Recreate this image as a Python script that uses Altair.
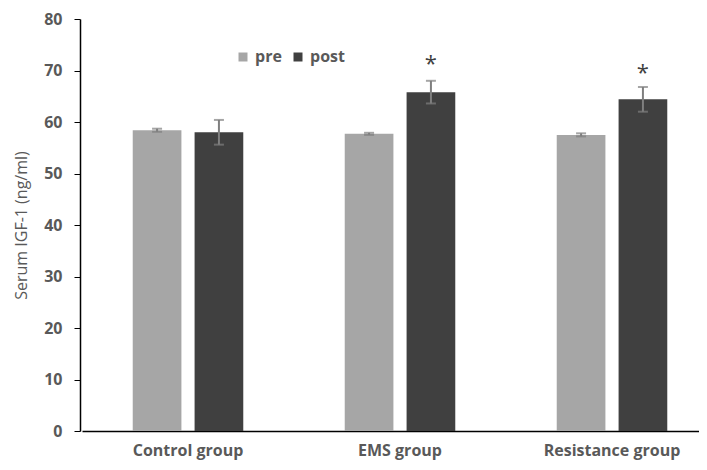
import altair as alt
import pandas as pd

groups = ["Control group", "EMS group", "Resistance group"]
phases = ["pre", "post"]
pre_vals = [58.4, 57.7, 57.5]
post_vals = [58.0, 65.8, 64.4]
pre_err = [0.3, 0.2, 0.3]
post_err = [2.4, 2.2, 2.4]
star_groups = ["EMS group", "Resistance group"]
star_y = [71.2, 69.6]

rows = []
for g, v, e in zip(groups, pre_vals, pre_err):
    rows.append({"group": g, "phase": "pre", "value": v, "lo": v - e, "hi": v + e})
for g, v, e in zip(groups, post_vals, post_err):
    rows.append({"group": g, "phase": "post", "value": v, "lo": v - e, "hi": v + e})
df = pd.DataFrame(rows)
stars = pd.DataFrame({"group": star_groups, "phase": ["post", "post"], "y": star_y, "t": ["*", "*"]})

FONT = "Open Sans"
GRAY = "#595959"

x = alt.X("group:N", sort=groups, title=None,
          scale=alt.Scale(paddingInner=0, paddingOuter=0, range=[2, 638]),
          axis=alt.Axis(labelAngle=0, labelFont=FONT, labelFontWeight="bold", labelFontSize=16,
                        labelColor=GRAY, domainColor="black", domainWidth=1.5, ticks=False,
                        labelPadding=11))
xo = alt.XOffset("phase:N", sort=phases,
                 scale=alt.Scale(paddingInner=0.213, paddingOuter=0.82))
yscale = alt.Scale(domain=[0, 80])

bars = alt.Chart(df).mark_bar().encode(
    x=x, xOffset=xo,
    y=alt.Y("value:Q", scale=yscale, title="Serum IGF-1 (ng/ml)",
            axis=alt.Axis(values=list(range(0, 90, 10)), grid=False, labelFont=FONT,
                          labelFontWeight="bold", labelFontSize=16, labelColor=GRAY,
                          titleFont=FONT, titleFontWeight="normal", titleFontSize=16,
                          titleColor=GRAY, domainColor="black", domainWidth=1.5,
                          tickColor="black", tickSize=6, labelPadding=12, titlePadding=14)),
    color=alt.Color("phase:N", sort=phases,
                    scale=alt.Scale(domain=phases, range=["#A6A6A6", "#404040"]),
                    legend=alt.Legend(title=None, orient="none", legendX=155, legendY=30,
                                      direction="horizontal", symbolType="square",
                                      symbolSize=81, symbolStrokeWidth=0, labelFont=FONT,
                                      labelFontWeight="bold", labelFontSize=16,
                                      labelColor=GRAY, columnPadding=8, labelOffset=4))
)

err = alt.Chart(df).mark_rule(color="#7F7F7F", strokeWidth=2).encode(
    x=x, xOffset=xo, y=alt.Y("lo:Q", scale=yscale), y2="hi:Q")
caps_hi = alt.Chart(df).mark_tick(color="#7F7F7F", thickness=2, size=10).encode(
    x=x, xOffset=xo, y=alt.Y("hi:Q", scale=yscale))
caps_lo = alt.Chart(df).mark_tick(color="#7F7F7F", thickness=2, size=10).encode(
    x=x, xOffset=xo, y=alt.Y("lo:Q", scale=yscale))
star = alt.Chart(stars).mark_text(font=FONT, fontSize=22, fontWeight="normal",
                                  color="#404040", baseline="middle").encode(
    x=x, xOffset=alt.XOffset("phase:N", sort=phases,
                             scale=alt.Scale(domain=phases, paddingInner=0.213, paddingOuter=0.82)),
    y=alt.Y("y:Q", scale=yscale), text="t:N")

chart = alt.layer(bars, err, caps_hi, caps_lo, star).properties(
    width=619, height=412, background="white",
    autosize=alt.AutoSizeParams(type="none"),
    padding={"left": 72, "top": 11, "right": 0, "bottom": 30}
).configure_view(stroke=None)

chart.save("out.html", embed_options={"renderer": "svg", "actions": False})
